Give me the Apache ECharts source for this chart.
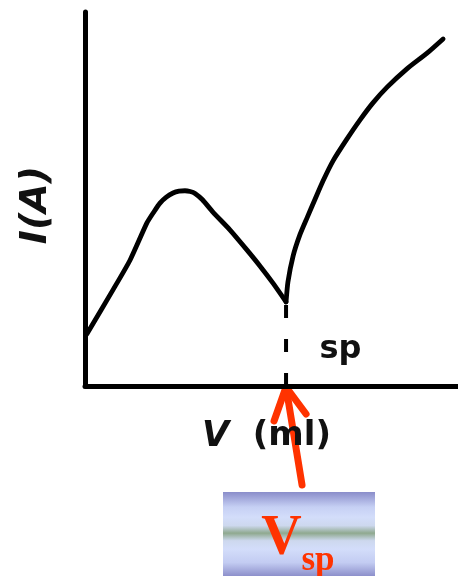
<!DOCTYPE html>
<html>
<head>
<meta charset="utf-8">
<script src="https://cdn.jsdelivr.net/npm/echarts@6/dist/echarts.min.js"></script>
<style>
  html, body { margin: 0; padding: 0; background: #ffffff; }
  #chart { width: 458px; height: 576px; }
</style>
</head>
<body>
<div id="chart"></div>
<script>
// Titration curve: current I versus added volume V (arbitrary units)
const volume  = [0.05, 0.75, 1.21, 1.66, 1.85, 2.01, 2.18, 2.36, 2.52, 2.68, 2.82, 2.95, 3.15, 3.43, 3.89, 4.34, 4.69, 5.04, 5.39,
                 5.44, 5.58, 5.76, 5.95, 6.17, 6.38, 6.65, 7.02, 7.37, 7.72, 8.10, 8.63, 9.17, 9.60];
const current = [1.39, 2.57, 3.37, 4.36, 4.66, 4.89, 5.05, 5.16, 5.21, 5.22, 5.20, 5.15, 4.98, 4.65, 4.17, 3.64, 3.21, 2.75, 2.25,
                 2.78, 3.48, 4.04, 4.49, 5.00, 5.48, 6.02, 6.60, 7.11, 7.57, 7.99, 8.48, 8.90, 9.28];

// End point of the titration (volume at the current minimum)
const spVolume = 5.39;
const spLabel = 'sp';

const xAxisName = 'V';
const xAxisUnit = '(ml)';
const yAxisName = 'I(A)';

const RED = '#ff3300';

// Split the curve at the end point so the cusp stays sharp
const spIdx = volume.indexOf(spVolume);
const pts = volume.map((v, i) => [v, current[i]]);
const fallingBranch = pts.slice(0, spIdx + 1);
const risingBranch = pts.slice(spIdx);

const chart = echarts.init(document.getElementById('chart'), null, { renderer: 'canvas' });

const curveStyle = { color: '#000', width: 4.8, cap: 'round', join: 'round' };

chart.setOption({
  backgroundColor: '#ffffff',
  animation: false,
  grid: { left: 85, right: 0, top: 12, bottom: 190 },
  xAxis: {
    type: 'value', min: 0, max: 10,
    axisLine: { show: true, lineStyle: { color: '#000', width: 5 } },
    axisTick: { show: false }, axisLabel: { show: false }, splitLine: { show: false },
    name: '{i|' + xAxisName + '}  ' + xAxisUnit,
    nameLocation: 'middle', nameGap: 33,
    nameTextStyle: {
      fontFamily: 'DejaVu Sans', fontSize: 34, fontWeight: 'bold', color: '#111',
      padding: [0, 10, 0, 0],
      rich: { i: { fontFamily: 'DejaVu Sans', fontSize: 35, fontWeight: 'bold', fontStyle: 'italic', color: '#111' } }
    }
  },
  yAxis: {
    type: 'value', min: 0, max: 10,
    axisLine: { show: true, lineStyle: { color: '#000', width: 5 } },
    axisTick: { show: false }, axisLabel: { show: false }, splitLine: { show: false },
    name: yAxisName,
    nameLocation: 'middle', nameRotate: 90, nameGap: 30,
    nameTextStyle: { fontFamily: 'DejaVu Sans', fontSize: 38, fontStyle: 'italic', fontWeight: 'bold', color: '#111',
      padding: [0, 12, 0, 0] }
  },
  series: [
    { type: 'line', data: fallingBranch, smooth: 0.2, symbol: 'none', lineStyle: curveStyle, z: 3 },
    { type: 'line', data: risingBranch, smooth: 0.2, symbol: 'none', lineStyle: curveStyle, z: 3 },
    {
      // dashed drop line from the volume axis up to the end point
      type: 'line', symbol: 'none', z: 2,
      data: [[spVolume, 0], [spVolume, current[spIdx]]],
      lineStyle: { color: '#000', width: 4, type: [13, 21] }
    },
    {
      type: 'scatter', symbolSize: 1, itemStyle: { color: 'rgba(0,0,0,0)', opacity: 1 }, z: 4,
      data: [[spVolume, 0.95]],
      label: { show: true, formatter: spLabel, position: 'right', offset: [28, -1],
        fontFamily: 'DejaVu Sans', fontWeight: 'bold', fontSize: 32, color: '#111' }
    }
  ]
});

// Red arrow pointing at the end point on the volume axis, plus the Vsp tag
const tip = chart.convertToPixel({ gridIndex: 0 }, [spVolume, 0]);
chart.setOption({
  graphic: [
    {
      type: 'group', x: tip[0], y: tip[1] + 1, z: 10,
      children: [
        { type: 'line', shape: { x1: 16, y1: 98, x2: 0, y2: 0 }, style: { stroke: RED, lineWidth: 7, lineCap: 'round' } },
        { type: 'polyline', shape: { points: [[-12, 34], [0, 0], [20, 27]] }, style: { stroke: RED, fill: null, lineWidth: 7, lineCap: 'round', lineJoin: 'round' } }
      ]
    },
    {
      type: 'group', left: 223, top: 492, z: 10,
      children: [
        {
          type: 'rect', shape: { x: 0, y: 0, width: 152, height: 84 },
          style: {
            fill: new echarts.graphic.LinearGradient(0, 0, 0, 1, [
              { offset: 0.00, color: '#8a8dca' },
              { offset: 0.18, color: '#c6d0f4' },
              { offset: 0.30, color: '#d3ddfa' },
              { offset: 0.40, color: '#cdd8ee' },
              { offset: 0.49, color: '#8fa98f' },
              { offset: 0.58, color: '#cdd8ee' },
              { offset: 0.68, color: '#d3ddfa' },
              { offset: 0.84, color: '#c3ccf2' },
              { offset: 1.00, color: '#8d90cb' }
            ])
          }
        },
        { type: 'text', x: 58.5, y: 48, style: { text: 'V', fill: RED, font: 'bold 56px "Liberation Serif"', align: 'center', verticalAlign: 'middle' } },
        { type: 'text', x: 95, y: 69, style: { text: 'sp', fill: RED, font: 'bold 35px "Liberation Serif"', align: 'center', verticalAlign: 'middle' } }
      ]
    }
  ]
});
</script>
</body>
</html>
